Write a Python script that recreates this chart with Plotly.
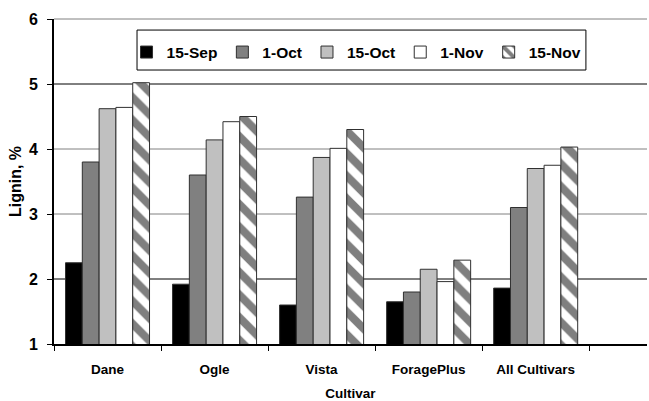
import plotly.graph_objects as go

# Lignin concentration (%) by cultivar and harvest date
cultivars = ["Dane", "Ogle", "Vista", "ForagePlus", "All Cultivars"]
dates = ["15-Sep", "1-Oct", "15-Oct", "1-Nov", "15-Nov"]
sep15 = [2.25, 1.92, 1.60, 1.65, 1.86]
oct1 = [3.80, 3.60, 3.26, 1.80, 3.10]
oct15 = [4.62, 4.14, 3.87, 2.15, 3.70]
nov1 = [4.64, 4.42, 4.01, 1.96, 3.75]
nov15 = [5.02, 4.50, 4.30, 2.29, 4.03]

series = [sep15, oct1, oct15, nov1, nov15]
fills = ["#000000", "#808080", "#C0C0C0", "#FFFFFF", "#FFFFFF"]

Y_MIN, Y_MAX = 1, 6
FAMILY = "Arial, Liberation Sans, sans-serif"
X_FONT = dict(family=FAMILY, size=13.5, color="black", weight="bold")
Y_FONT = dict(family=FAMILY, size=16, color="black", weight="bold")
LEG_FONT = dict(family=FAMILY, size=15.5, color="black", weight="bold")

fig = go.Figure()
for name, vals, col in zip(dates, series, fills):
    marker = dict(color=col, line=dict(color="#303030", width=1))
    if name == "15-Nov":
        marker["pattern"] = dict(shape="\\", fgcolor="black", bgcolor="white",
                                 size=16, solidity=0.5, fillmode="overlay")
    fig.add_trace(go.Bar(x=cultivars, y=vals, name=name, marker=marker))

# horizontal gridlines (paper-referenced so the top one is not clipped)
grid_vals = [2, 3, 4, 5, 6]
grid_cols = ["#000000", "#808080", "#808080", "#000000", "#808080"]
shapes = []
for g, c in zip(grid_vals, grid_cols):
    yf = (g - Y_MIN) / (Y_MAX - Y_MIN)
    shapes.append(dict(type="line", xref="paper", yref="paper", x0=0, x1=1, y0=yf, y1=yf,
                       line=dict(color=c, width=1), layer="below"))
# legend frame
shapes.append(dict(type="rect", xref="paper", yref="paper",
                   x0=0.140, x1=0.897, y0=0.843, y1=0.966,
                   line=dict(color="black", width=1), fillcolor="white", layer="above"))

fig.update_layout(
    width=649, height=401,
    margin=dict(l=54, r=2, t=19, b=57),
    paper_bgcolor="white", plot_bgcolor="white",
    font=X_FONT,
    barmode="group", bargap=0.215, bargroupgap=0,
    shapes=shapes,
    showlegend=True,
    legend=dict(orientation="h", x=0.1223, xanchor="left", y=0.897, yanchor="middle",
                itemwidth=30,
                bgcolor="rgba(0,0,0,0)", borderwidth=0, font=LEG_FONT,
                traceorder="normal"),
    xaxis=dict(type="category", range=[-0.5, 5.04], tickson="boundaries",
               ticks="outside", ticklen=5, tickwidth=1, tickcolor="black",
               showline=True, linewidth=2, linecolor="black", showgrid=False,
               ticklabelstandoff=12, tickfont=X_FONT,
               title=dict(text="Cultivar", font=X_FONT, standoff=12)),
    yaxis=dict(range=[Y_MIN, Y_MAX], tickvals=[1, 2, 3, 4, 5, 6], showgrid=False,
               ticks="outside", ticklen=5, tickwidth=1, tickcolor="black",
               showline=True, linewidth=2, linecolor="black", zeroline=False,
               ticklabelstandoff=6, tickfont=Y_FONT,
               title=dict(text="Lignin, %", font=Y_FONT, standoff=3)),
)

fig.write_html("out.html")
